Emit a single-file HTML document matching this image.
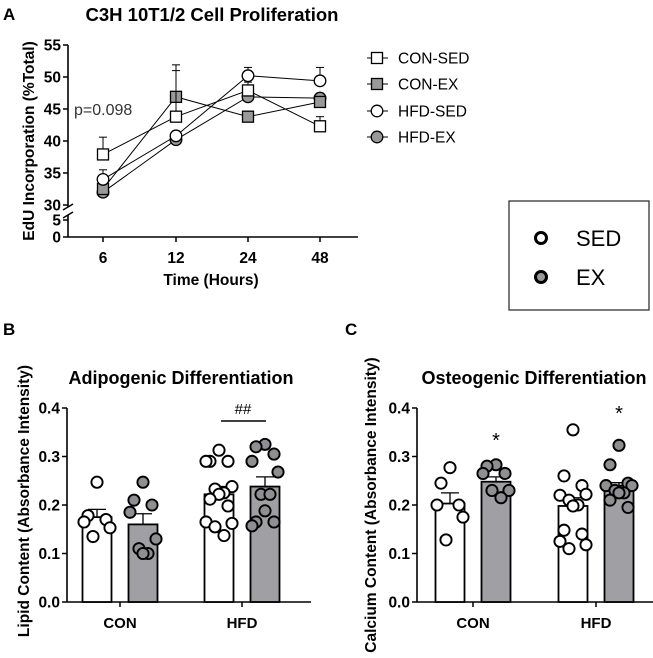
<!DOCTYPE html>
<html><head><meta charset="utf-8">
<style>
html,body{margin:0;padding:0;background:#fff;}
svg{display:block;font-family:"Liberation Sans",Arial,sans-serif;}
</style></head>
<body>
<svg id="fig" width="653" height="658" viewBox="0 0 653 658" xmlns="http://www.w3.org/2000/svg">
  <text x="3" y="20" font-size="17" font-weight="bold">A</text>
  <text x="212" y="21" font-size="18.5" font-weight="bold" text-anchor="middle">C3H 10T1/2 Cell Proliferation</text>
  <text x="74" y="115" font-size="16" fill="#333">p=0.098</text>
  <text transform="translate(34,141) rotate(-90)" font-size="15.5" font-weight="bold" text-anchor="middle">EdU Incorporation (%Total)</text>
  <text x="211" y="285" font-size="15.5" font-weight="bold" text-anchor="middle">Time (Hours)</text>

  <g>
    <rect x="509" y="201" width="140" height="109" fill="none" stroke="#333" stroke-width="1.3"/>
    <circle cx="541" cy="238" r="5.5" fill="#fff" stroke="#000" stroke-width="3"/>
    <text x="576" y="246" font-size="22">SED</text>
    <circle cx="541" cy="277" r="5.5" fill="#999" stroke="#000" stroke-width="3"/>
    <text x="576" y="285" font-size="22">EX</text>
  </g>

  <text x="3" y="335" font-size="17" font-weight="bold">B</text>
  <text x="181" y="384" font-size="18" font-weight="bold" text-anchor="middle">Adipogenic Differentiation</text>
  <text transform="translate(29,501) rotate(-90)" font-size="15.5" font-weight="bold" text-anchor="middle">Lipid Content (Absorbance Intensity)</text>

  <text x="345" y="335" font-size="17" font-weight="bold">C</text>
  <text x="534" y="384" font-size="18" font-weight="bold" text-anchor="middle">Osteogenic Differentiation</text>
  <text transform="translate(376,505) rotate(-90)" font-size="15.5" font-weight="bold" text-anchor="middle">Calcium Content (Absorbance Intensity)</text>
</svg>
<script>
// ---------- Panel A data ----------
const timeCats = ["6","12","24","48"];
const yTicksUpper = [30,35,40,45,50,55];
const yTicksLower = [0,5];
const seriesNames = ["CON-SED","CON-EX","HFD-SED","HFD-EX"];
const conSed = [37.9,43.8,47.9,42.3];
const conSedErr = [2.7,7.2,1.3,1.5];
const conEx = [32.5,46.9,43.8,46.1];
const conExErr = [0.6,5.0,0.8,0.6];
const hfdSed = [34.0,40.8,50.2,49.4];
const hfdSedErr = [1.5,0.5,1.3,2.1];
const hfdEx = [32.0,40.2,46.9,46.7];
const hfdExErr = [0.5,0.4,0.6,0.4];

// ---------- Panel B/C data ----------
const groupCats = ["CON","HFD"];
const barTicks = [0.0,0.1,0.2,0.3,0.4];
const lipidMeans = [0.175,0.160,0.222,0.238];
const lipidErr = [0.016,0.022,0.016,0.020];
const lipidConSed = [0.247,0.178,0.170,0.165,0.153,0.135];
const lipidConEx = [0.247,0.210,0.200,0.185,0.130,0.110,0.100,0.100];
const lipidHfdSed = [0.313,0.290,0.290,0.290,0.238,0.233,0.225,0.222,0.212,0.198,0.165,0.162,0.155,0.137];
const lipidHfdEx = [0.325,0.320,0.305,0.290,0.268,0.222,0.222,0.188,0.165,0.165,0.157];
const calMeans = [0.203,0.248,0.198,0.240];
const calErr = [0.022,0.010,0.017,0.006];
const calConSed = [0.277,0.245,0.200,0.200,0.175,0.128];
const calConEx = [0.283,0.280,0.265,0.265,0.230,0.230,0.215];
const calHfdSed = [0.355,0.260,0.240,0.220,0.222,0.210,0.200,0.198,0.148,0.140,0.125,0.118,0.110];
const calHfdEx = [0.323,0.283,0.245,0.240,0.240,0.230,0.225,0.225,0.210,0.195];

const NS="http://www.w3.org/2000/svg";
const svg=document.getElementById('fig');
function mk(tag,attrs,parent){const e=document.createElementNS(NS,tag);for(const k in attrs)e.setAttribute(k,attrs[k]);(parent||svg).appendChild(e);return e;}
function txt(s,attrs,parent){const e=mk('text',attrs,parent);e.textContent=s;return e;}

// ---------- Panel A ----------
const aX0=68, aXEnd=358;
const catX=[103,176,248,320];
function ayU(v){return 205-(v-30)*(205-45)/25;}
function ayL(v){return 237-v*(237-220)/5;}
const gA=mk('g',{});


let e;
e=mk('line',{x1:aX0,y1:45,x2:aX0,y2:207,stroke:'#000','stroke-width':1.6},gA);

e=mk('line',{x1:aX0,y1:215,x2:aX0,y2:237,stroke:'#000','stroke-width':1.6},gA);

mk('line',{x1:aX0-5,y1:210,x2:aX0+5,y2:204,stroke:'#000','stroke-width':1.4},gA);
mk('line',{x1:aX0-5,y1:218,x2:aX0+5,y2:212,stroke:'#000','stroke-width':1.4},gA);
e=mk('line',{x1:aX0,y1:237,x2:aXEnd,y2:237,stroke:'#000','stroke-width':1.6},gA);

yTicksUpper.forEach(v=>{const y=ayU(v);mk('line',{x1:aX0-5,y1:y,x2:aX0,y2:y,stroke:'#000','stroke-width':1.5},gA);
 const t=txt(String(v),{x:aX0-7,y:y+5.5,'font-size':15.5,'font-weight':'bold','text-anchor':'end'},gA);
 });
yTicksLower.forEach(v=>{const y=ayL(v);mk('line',{x1:aX0-5,y1:y,x2:aX0,y2:y,stroke:'#000','stroke-width':1.5},gA);
 const t=txt(String(v),{x:aX0-7,y:y+5.5,'font-size':15.5,'font-weight':'bold','text-anchor':'end'},gA);
 });
timeCats.forEach((c,i)=>{mk('line',{x1:catX[i],y1:237,x2:catX[i],y2:242,stroke:'#000','stroke-width':1.5},gA);
 const t=txt(c,{x:catX[i],y:263,'font-size':15.5,'font-weight':'bold','text-anchor':'middle'},gA);
 });

const seriesData=[conSed,conEx,hfdSed,hfdEx];
const seriesErr=[conSedErr,conExErr,hfdSedErr,hfdExErr];
const seriesShape=['square','square','circle','circle'];
const seriesFill=['#fff','#999','#fff','#999'];
function marker(shape,cx,cy,fill,parent){
  if(shape==='square') return mk('rect',{x:cx-5.5,y:cy-5.5,width:11,height:11,fill:fill,stroke:'#000','stroke-width':1.3},parent);
  return mk('circle',{cx:cx,cy:cy,r:5.8,fill:fill,stroke:'#000','stroke-width':1.3},parent);
}
const order=[3,1,0,2];
order.forEach(s=>{
  const g=mk('g',{},gA);
  
  
  const vals=seriesData[s];
  vals.forEach((v,i)=>{const y=ayU(v), ye=ayU(v+seriesErr[s][i]);
    mk('line',{x1:catX[i],y1:y,x2:catX[i],y2:ye,stroke:'#000','stroke-width':1},g);
    mk('line',{x1:catX[i]-4,y1:ye,x2:catX[i]+4,y2:ye,stroke:'#000','stroke-width':1},g);});
  const pts=vals.map((v,i)=>catX[i]+','+ayU(v)).join(' ');
  const pl=mk('polyline',{points:pts,fill:'none',stroke:'#000','stroke-width':1},g);
  
  
  vals.forEach((v,i)=>{const m=marker(seriesShape[s],catX[i],ayU(v),seriesFill[s],g);
    
    });
});
const legY=[58,84,111,137];
const gL=mk('g',{});


seriesNames.forEach((n,i)=>{
  mk('line',{x1:367,y1:legY[i],x2:388,y2:legY[i],stroke:'#000','stroke-width':1},gL);
  const m=marker(seriesShape[i],377,legY[i],seriesFill[i],gL);
  
  
  const t=txt(n,{x:398,y:legY[i]+5.5,'font-size':15.5},gL);
  
  
});

// ---------- Bar panels ----------
function by(v){return 602-v*(602-408)/0.4;}
function barPanel(p){
  const g=mk('g',{});
  
  
  let a=mk('line',{x1:p.ax,y1:408,x2:p.ax,y2:602,stroke:'#000','stroke-width':1.6},g);
  
  a=mk('line',{x1:p.ax,y1:602,x2:p.axEnd,y2:602,stroke:'#000','stroke-width':1.6},g);
  
  barTicks.forEach(v=>{const y=by(v);mk('line',{x1:p.ax-5,y1:y,x2:p.ax,y2:y,stroke:'#000','stroke-width':1.5},g);
    const t=txt(v.toFixed(1),{x:p.ax-7,y:y+5.5,'font-size':15.5,'font-weight':'bold','text-anchor':'end'},g);
    });
  groupCats.forEach((c,i)=>{mk('line',{x1:p.cx[i],y1:602,x2:p.cx[i],y2:607,stroke:'#000','stroke-width':1.5},g);
    const t=txt(c,{x:p.cx[i],y:628,'font-size':15,'font-weight':'bold','text-anchor':'middle'},g);
    });
  const bw=29, off=23;
  const names=['con-sed','con-ex','hfd-sed','hfd-ex'];
  p.means.forEach((m,k)=>{
    const gi=Math.floor(k/2), isEx=k%2===1;
    const x=p.cx[gi]+(isEx?off:-off);
    const top=by(m), ye=by(m+p.err[k]);
    mk('line',{x1:x,y1:top,x2:x,y2:ye,stroke:'#000','stroke-width':1.3},g);
    mk('line',{x1:x-9,y1:ye,x2:x+9,y2:ye,stroke:'#000','stroke-width':1.3},g);
    const r=mk('rect',{x:x-bw/2,y:top,width:bw,height:602-top,fill:isEx?'#a0a0a4':'#fff',stroke:'#000','stroke-width':1.8},g);
    
    
    const pts=p.points[k];
    pts.forEach((v,j)=>{
      const cols=[0,-9,9,-13,13,-4,5];
      const dx=cols[j%7];
      const c=mk('circle',{cx:x+dx,cy:by(v),r:5.6,fill:isEx?'#8f8f92':'#fff',stroke:'#000','stroke-width':1.9},g);
      
      
    });
  });
  return g;
}
barPanel({name:'panel-b-chart',ax:67,axEnd:311,cx:[120,242],means:lipidMeans,err:lipidErr,
  points:[lipidConSed,lipidConEx,lipidHfdSed,lipidHfdEx]});
barPanel({name:'panel-c-chart',ax:417,axEnd:653,cx:[473,596],means:calMeans,err:calErr,
  points:[calConSed,calConEx,calHfdSed,calHfdEx]});

e=mk('line',{x1:221,y1:421,x2:266,y2:421,stroke:'#000','stroke-width':1.6});

e=txt('##',{x:243,y:414,'font-size':15,'text-anchor':'middle'});

e=txt('*',{x:496,y:447,'font-size':20,'text-anchor':'middle'});

e=txt('*',{x:619,y:420,'font-size':20,'text-anchor':'middle'});

</script>
</body></html>
